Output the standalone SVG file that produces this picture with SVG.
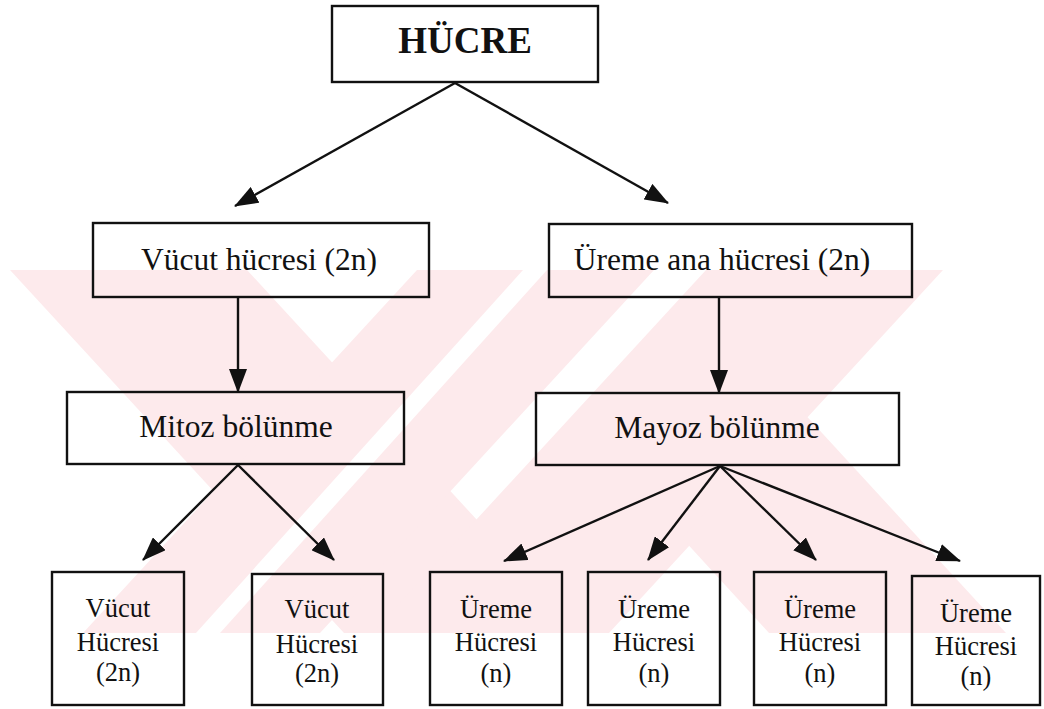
<svg xmlns="http://www.w3.org/2000/svg" width="1044" height="709" viewBox="0 0 1044 709">
  <style>
    .box { fill: none; stroke: #111; stroke-width: 2.4; }
    .lbl { font-family: "Liberation Serif", "Times New Roman", serif; fill: #111; text-anchor: middle; }
    .mid { font-size: 31.5px; }
    .small { font-size: 26.5px; }
    .conn { stroke: #111; stroke-width: 2.4; fill: none; marker-end: url(#arrow); }
    .wm { fill: #fdeaec; stroke: none; }
    .wmw { fill: #ffffff; stroke: none; }
  </style>
  <defs>
    <marker id="arrow" viewBox="0 0 24 18" refX="23" refY="9" markerWidth="24" markerHeight="18" markerUnits="userSpaceOnUse" orient="auto">
      <path d="M0,0 L24,9 L0,18 z" fill="#111"/>
    </marker>
  </defs>
  <rect x="0" y="0" width="1044" height="709" fill="#ffffff"/>

  <g id="watermark">
    <polygon class="wm" points="10,270 247,270 581,633 344,633"/>
    <polygon class="wm" points="417,270 654,270 320,633 83,633"/>
    <polygon class="wm" points="706,270 943,270 609,633 372,633"/>
    <polygon class="wm" points="682,538 800,409 1006,633 769,633"/>
    <polygon class="wmw" points="523,270 547,270 220,633 196,633"/>
  </g>

  <g id="connectors">
    <path class="conn" d="M455,83 L235,206"/>
    <path class="conn" d="M455,83 L668,203"/>
    <path class="conn" d="M238,297 L238,392"/>
    <path class="conn" d="M719,297 L719,393"/>
    <path class="conn" d="M238,465 L143,560"/>
    <path class="conn" d="M238,465 L334,560"/>
    <path class="conn" d="M720,466 L504,561"/>
    <path class="conn" d="M720,466 L648,560"/>
    <path class="conn" d="M720,466 L816,560"/>
    <path class="conn" d="M720,466 L960,561"/>
  </g>

  <g id="node-hucre">
    <rect class="box" x="332" y="6" width="266" height="76"/>
    <text class="lbl" x="465" y="53" font-size="37" font-weight="bold">HÜCRE</text>
  </g>
  <g id="node-vucut-hucresi">
    <rect class="box" x="93" y="223" width="336" height="74"/>
    <text class="lbl mid" x="259" y="270">Vücut hücresi (2n)</text>
  </g>
  <g id="node-ureme-ana">
    <rect class="box" x="549" y="224" width="363" height="73"/>
    <text class="lbl mid" x="722" y="270">Üreme ana hücresi (2n)</text>
  </g>
  <g id="node-mitoz">
    <rect class="box" x="67" y="392" width="337" height="72"/>
    <text class="lbl mid" x="236" y="437">Mitoz bölünme</text>
  </g>
  <g id="node-mayoz">
    <rect class="box" x="536" y="393" width="363" height="72"/>
    <text class="lbl mid" x="717" y="438">Mayoz bölünme</text>
  </g>
  <g id="node-vucut-1">
    <rect class="box" x="52" y="572" width="132" height="133"/>
    <text class="lbl small" x="118" y="617">Vücut</text>
    <text class="lbl small" x="118" y="651">Hücresi</text>
    <text class="lbl small" x="118" y="681">(2n)</text>
  </g>
  <g id="node-vucut-2">
    <rect class="box" x="252" y="574" width="131" height="131"/>
    <text class="lbl small" x="317" y="618">Vücut</text>
    <text class="lbl small" x="317" y="653">Hücresi</text>
    <text class="lbl small" x="317" y="682">(2n)</text>
  </g>
  <g id="node-ureme-1">
    <rect class="box" x="430" y="572" width="132" height="133"/>
    <text class="lbl small" x="496" y="618">Üreme</text>
    <text class="lbl small" x="496" y="651">Hücresi</text>
    <text class="lbl small" x="496" y="682">(n)</text>
  </g>
  <g id="node-ureme-2">
    <rect class="box" x="588" y="572" width="132" height="133"/>
    <text class="lbl small" x="654" y="618">Üreme</text>
    <text class="lbl small" x="654" y="651">Hücresi</text>
    <text class="lbl small" x="654" y="682">(n)</text>
  </g>
  <g id="node-ureme-3">
    <rect class="box" x="754" y="572" width="132" height="133"/>
    <text class="lbl small" x="820" y="618">Üreme</text>
    <text class="lbl small" x="820" y="651">Hücresi</text>
    <text class="lbl small" x="820" y="682">(n)</text>
  </g>
  <g id="node-ureme-4">
    <rect class="box" x="912" y="576" width="128" height="129"/>
    <text class="lbl small" x="976" y="622">Üreme</text>
    <text class="lbl small" x="976" y="655">Hücresi</text>
    <text class="lbl small" x="976" y="685">(n)</text>
  </g>
</svg>
